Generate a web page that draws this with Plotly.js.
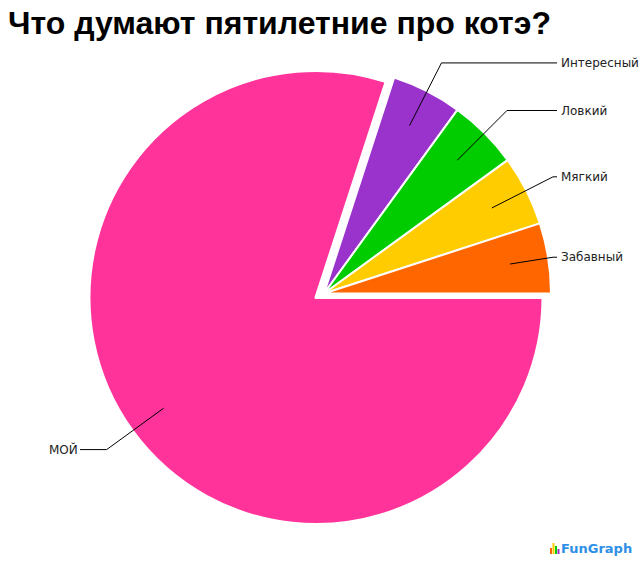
<!DOCTYPE html>
<html>
<head>
<meta charset="utf-8">
<script src="https://cdn.plot.ly/plotly-3.0.1.min.js"></script>
<style>html,body{margin:0;padding:0;background:#fff;}#chart{width:640px;height:565px;}</style>
</head>
<body>
<div id="chart"></div>
<script>
// ---- data ----
const titleText = 'Что думают пятилетние про котэ?';
const labels = ['МОЙ', 'Интересный', 'Ловкий', 'Мягкий', 'Забавный'];
const values = [80, 5, 5, 5, 5];
const colors = ['#FF3399', '#9933CC', '#00CC00', '#FFCC00', '#FF6600'];
const pulledGroup = [false, true, true, true, true];

// ---- layout geometry (pixels) ----
const W = 640, H = 565;
const CX = 316, CY = 297.5, R = 227;        // main pie
const GX = 324, GY = 293.5;                 // pulled group centre
const T = 'rgba(0,0,0,0)';

function dom(cx, cy, r) {
  return {x: [(cx - r) / W, (cx + r) / W], y: [1 - (cy + r) / H, 1 - (cy - r) / H]};
}
const px = x => x / W, py = y => 1 - y / H;

const mainTrace = {
  type: 'pie', labels: labels, values: values, sort: false,
  direction: 'clockwise', rotation: 90,
  marker: {colors: colors.map((c, i) => pulledGroup[i] ? T : c),
           line: {color: '#fff', width: pulledGroup.map(p => p ? 0 : 3)}},
  textinfo: 'none', hoverinfo: 'none', showlegend: false,
  domain: dom(CX, CY, R)
};
const groupTrace = {
  type: 'pie', labels: labels, values: values, sort: false,
  direction: 'clockwise', rotation: 90,
  marker: {colors: colors.map((c, i) => pulledGroup[i] ? c : T),
           line: {color: '#fff', width: pulledGroup.map(p => p ? 2 : 0)}},
  textinfo: 'none', hoverinfo: 'none', showlegend: false,
  domain: dom(GX, GY, R)
};

// leader lines + labels computed from slice angles
const total = values.reduce((a, b) => a + b, 0);
let acc = 0;
const shapes = [], annotations = [];
values.forEach((v, i) => {
  const a0 = -acc / total * 360, a1 = -(acc + v) / total * 360;
  acc += v;
  const mid = (a0 + a1) / 2 * Math.PI / 180;
  const cx = pulledGroup[i] ? GX : CX, cy = pulledGroup[i] ? GY : CY;
  const c = Math.cos(mid), s = Math.sin(mid);
  const ix = cx + 0.83 * R * c, iy = cy - 0.83 * R * s;
  let t = 1.14 * R;
  const right = c >= 0;
  if (right) t = Math.min(t, (553 - cx) / c);
  const ex = cx + t * c, ey = cy - t * s;
  const hx = right ? 557 : 80;
  shapes.push({type: 'path', xref: 'paper', yref: 'paper', layer: 'above',
    path: `M ${px(ix)},${py(iy)} L ${px(ex)},${py(ey)} L ${px(hx)},${py(ey)}`,
    line: {color: '#000', width: 1}});
  annotations.push({xref: 'paper', yref: 'paper', x: px(right ? 559 : 80), y: py(ey),
    xanchor: right ? 'left' : 'right', yanchor: 'middle', showarrow: false,
    text: labels[i], font: {family: 'DejaVu Sans', size: 12, color: '#222'}});
});

// watermark logo
const logoBars = [[550, 548, '#FF6600'], [552.5, 543, '#FFCC00'], [555, 546, '#00CC00'], [557.5, 549, '#9933CC']];
logoBars.forEach(b => shapes.push({type: 'rect', xref: 'paper', yref: 'paper', layer: 'above',
  x0: px(b[0]), x1: px(b[0] + 2), y0: py(554), y1: py(b[1]), fillcolor: b[2], line: {width: 0}}));
annotations.push({xref: 'paper', yref: 'paper', x: px(559), y: py(548), xanchor: 'left', yanchor: 'middle',
  showarrow: false, text: '<b>FunGraph</b>', font: {family: 'DejaVu Sans', size: 13, color: '#2E8FE6'}});

const layout = {
  width: W, height: H,
  margin: {l: 0, r: 0, t: 0, b: 0},
  paper_bgcolor: '#fff',
  title: {text: titleText, x: 8 / W, xanchor: 'left', y: 1 - 23 / H, yanchor: 'middle',
          font: {family: 'Liberation Sans', size: 32, weight: 700, color: '#000'}},
  shapes: shapes, annotations: annotations
};
Plotly.newPlot('chart', [mainTrace, groupTrace], layout, {displayModeBar: false, staticPlot: true});
</script>
</body>
</html>
